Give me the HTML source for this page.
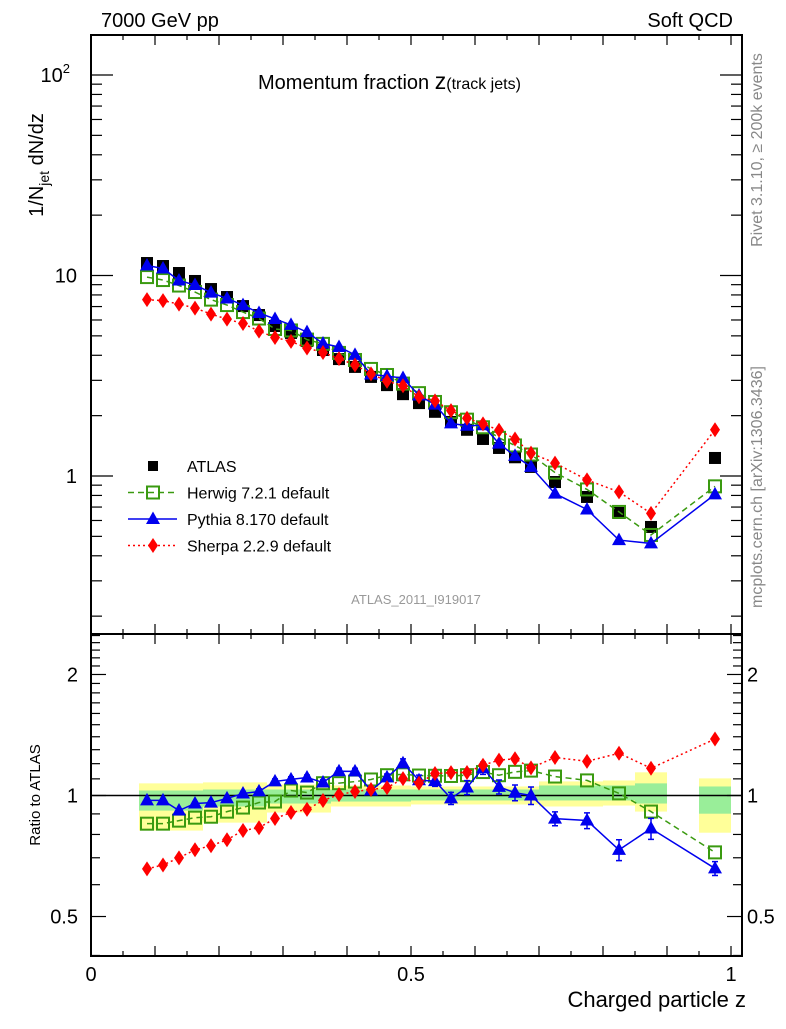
<!DOCTYPE html>
<html><head><meta charset="utf-8"><style>
body{margin:0;background:#fff}
svg text{font-family:"Liberation Sans",sans-serif}
</style></head><body>
<svg id="c" width="786" height="1024" viewBox="0 0 786 1024" xmlns="http://www.w3.org/2000/svg">
<g id="bands"></g>
<g id="marks"></g>
<g id="axes"></g>
<text x="101" y="27" font-size="20">7000 GeV pp</text>
<text x="733" y="27" font-size="20" text-anchor="end">Soft QCD</text>
<text x="258" y="89" font-size="20">Momentum fraction <tspan font-size="23">z</tspan><tspan font-size="16">(track jets)</tspan></text>
<text transform="translate(43,165) rotate(-90)" font-size="20" text-anchor="middle">1/N<tspan font-size="14" dy="6">jet</tspan><tspan dy="-6"> dN/dz</tspan></text>
<text transform="translate(40,795) rotate(-90)" font-size="15" text-anchor="middle">Ratio to ATLAS</text>
<text x="746" y="1007" font-size="22" text-anchor="end">Charged particle z</text>
<text transform="translate(762,150) rotate(-90)" font-size="16" fill="#888" text-anchor="middle">Rivet 3.1.10, ≥ 200k events</text>
<text transform="translate(762,487) rotate(-90)" font-size="16" fill="#888" text-anchor="middle">mcplots.cern.ch [arXiv:1306.3436]</text>
<text x="416" y="604" font-size="13" fill="#999" text-anchor="middle">ATLAS_2011_I919017</text>
<g id="legend"></g>
</svg>
<script>
const zCenters=[0.0875,0.1125,0.1375,0.1625,0.1875,0.2125,0.2375,0.2625,0.2875,0.3125,0.3375,0.3625,0.3875,0.4125,0.4375,0.4625,0.4875,0.5125,0.5375,0.5625,0.5875,0.6125,0.6375,0.6625,0.6875,0.725,0.775,0.825,0.875,0.975];
const zLo=[0.075,0.1,0.125,0.15,0.175,0.2,0.225,0.25,0.275,0.3,0.325,0.35,0.375,0.4,0.425,0.45,0.475,0.5,0.525,0.55,0.575,0.6,0.625,0.65,0.675,0.7,0.75,0.8,0.85,0.95];
const zHi=[0.1,0.125,0.15,0.175,0.2,0.225,0.25,0.275,0.3,0.325,0.35,0.375,0.4,0.425,0.45,0.475,0.5,0.525,0.55,0.575,0.6,0.625,0.65,0.675,0.7,0.75,0.8,0.85,0.9,1.0];
const atlas=[11.54,11.15,10.29,9.39,8.56,7.81,7.04,6.35,5.60,5.17,4.71,4.25,3.83,3.50,3.12,2.84,2.56,2.31,2.09,1.86,1.70,1.53,1.38,1.24,1.11,0.933,0.786,0.654,0.557,1.23];
const herwig=[9.82,9.49,8.91,8.27,7.58,7.12,6.57,6.10,5.41,5.32,4.79,4.56,4.11,3.79,3.42,3.19,2.89,2.59,2.34,2.08,1.91,1.75,1.55,1.42,1.28,1.04,0.857,0.662,0.508,0.888];
const pythia=[11.22,10.84,9.44,8.97,8.22,7.68,7.12,6.50,6.07,5.67,5.22,4.58,4.40,4.02,3.21,3.15,3.08,2.52,2.27,1.83,1.78,1.79,1.45,1.26,1.11,0.817,0.681,0.479,0.461,0.810];
const pythiaRelErr=[0.01,0.01,0.01,0.01,0.01,0.012,0.012,0.015,0.015,0.015,0.015,0.015,0.018,0.018,0.02,0.02,0.025,0.03,0.03,0.035,0.04,0.035,0.04,0.045,0.05,0.04,0.045,0.06,0.06,0.04];
const sherpa=[7.58,7.49,7.20,6.88,6.42,6.06,5.76,5.28,4.91,4.69,4.35,4.13,3.85,3.58,3.23,2.97,2.82,2.48,2.37,2.12,1.94,1.82,1.69,1.53,1.30,1.16,0.956,0.833,0.651,1.70];
const yellowHi=[1.072,1.072,1.072,1.072,1.078,1.078,1.078,1.078,1.065,1.065,1.065,1.065,1.059,1.059,1.059,1.059,1.059,1.053,1.053,1.053,1.053,1.053,1.053,1.053,1.053,1.084,1.084,1.090,1.142,1.103];
const yellowLo=[0.818,0.818,0.818,0.818,0.856,0.856,0.856,0.856,0.907,0.907,0.907,0.907,0.939,0.939,0.939,0.939,0.939,0.950,0.950,0.950,0.950,0.950,0.950,0.950,0.950,0.939,0.939,0.944,0.912,0.808];
const greenHi=[1.029,1.029,1.029,1.029,1.035,1.035,1.035,1.035,1.035,1.035,1.035,1.035,1.035,1.035,1.035,1.035,1.035,1.035,1.035,1.035,1.035,1.035,1.035,1.035,1.035,1.059,1.059,1.059,1.072,1.053];
const greenLo=[0.917,0.917,0.917,0.917,0.939,0.939,0.939,0.939,0.955,0.955,0.955,0.955,0.966,0.966,0.966,0.966,0.966,0.972,0.972,0.972,0.972,0.972,0.972,0.972,0.972,0.972,0.972,0.972,0.955,0.901];
const xTickLabels=["0","0.5","1"];
const xTickValues=[0,0.5,1];
const mainTickLabels=["1","10","10²"];
const ratioTickValues=[0.5,1,2];

const NS="http://www.w3.org/2000/svg";
const L=91,R=742,T=35,S=634,B=956;
const X=z=>L+z*640;
const Ym=v=>476-200.5*Math.log10(v);
const Yr=r=>795.5-402*Math.log10(r);
function mk(tag,attrs,parent){const e=document.createElementNS(NS,tag);for(const k in attrs)e.setAttribute(k,attrs[k]);parent.appendChild(e);return e;}
const bands=document.getElementById('bands'),marks=document.getElementById('marks'),axes=document.getElementById('axes'),legend=document.getElementById('legend');

for(let i=0;i<zCenters.length;i++){
  let e=mk('rect',{x:X(zLo[i]),y:Yr(yellowHi[i]),width:X(zHi[i])-X(zLo[i]),height:Yr(yellowLo[i])-Yr(yellowHi[i]),fill:'#ffff99'},bands);
  
  
  e=mk('rect',{x:X(zLo[i]),y:Yr(greenHi[i]),width:X(zHi[i])-X(zLo[i]),height:Yr(greenLo[i])-Yr(greenHi[i]),fill:'#99ee99'},bands);
  
  
}
let ref=mk('line',{x1:L,x2:R,y1:Yr(1),y2:Yr(1),stroke:'#000','stroke-width':1.5},bands);



function marker(kind,x,y,g){
  let e;
  if(kind==='sq') e=mk('rect',{x:x-6,y:y-6,width:12,height:12,fill:'#000'},g);
  else if(kind==='osq') e=mk('rect',{x:x-6,y:y-6,width:12,height:12,fill:'#fff','fill-opacity':0,stroke:'#3a9a10','stroke-width':2},g);
  else if(kind==='tri') e=mk('path',{d:`M${x},${y-7.5}L${x+7},${y+5}L${x-7},${y+5}Z`,fill:'#0000ee'},g);
  else e=mk('path',{d:`M${x},${y-7.5}L${x+5},${y}L${x},${y+7.5}L${x-5},${y}Z`,fill:'#ff0000'},g);
  return e;
}
const series=[
 {name:'herwig',vals:herwig,color:'#3a9a10',dash:'6,4',kind:'osq'},
 {name:'pythia',vals:pythia,color:'#0000ee',dash:'',kind:'tri',err:pythiaRelErr},
 {name:'sherpa',vals:sherpa,color:'#ff0000',dash:'2,3',kind:'dia'}
];
for(let i=0;i<atlas.length;i++){
  const e=marker('sq',X(zCenters[i]),Ym(atlas[i]),marks);
  
  
}
for(const s of series){
  const g=mk('g',{},marks);
  
  
  const pm=s.vals.map((v,i)=>X(zCenters[i])+','+Ym(v)).join(' ');
  const pr=s.vals.map((v,i)=>X(zCenters[i])+','+Yr(v/atlas[i])).join(' ');
  for(const pts of [pm,pr]){
    const pl=mk('polyline',{points:pts,fill:'none',stroke:s.color,'stroke-width':1.5,'stroke-dasharray':s.dash},g);
    
    
  }
  for(let i=0;i<s.vals.length;i++){
    const x=X(zCenters[i]);
    const r=s.vals[i]/atlas[i];
    if(s.err){
      const e1=mk('path',{d:`M${x},${Yr(r*(1+s.err[i]))}V${Yr(r*(1-s.err[i]))}M${x-3},${Yr(r*(1+s.err[i]))}h6M${x-3},${Yr(r*(1-s.err[i]))}h6`,stroke:s.color,'stroke-width':1.5,fill:'none'},g);
      
      
    }
    let e=marker(s.kind,x,Ym(s.vals[i]),g);
    
    
    e=marker(s.kind,x,Yr(r),g);
    
    
  }
}
function ln(x1,y1,x2,y2,w){return mk('line',{x1,y1,x2,y2,stroke:'#000','stroke-width':w||1.2},axes);}
for(const [t,b] of [[T,S],[S,B]]){
  const f=mk('rect',{x:L,y:t,width:R-L,height:b-t,fill:'none',stroke:'#000','stroke-width':2},axes);
  
  
  for(let k=0;k<=20;k++){
    const x=X(k*0.05);const len=k%2===0?10:5;
    ln(x,t,x,t+len);ln(x,b,x,b-len);
  }
}
for(let i=0;i<xTickValues.length;i++){
  const e=mk('text',{x:X(xTickValues[i]),y:981,'font-size':20,'text-anchor':'middle'},axes);
  e.textContent=xTickLabels[i];
  
  
}
for(let d=-1;d<=2;d++){
  for(let m=1;m<10;m++){
    const v=m*Math.pow(10,d);const y=Ym(v);
    if(y<T||y>S)continue;
    const len=m===1?22:11;
    ln(L,y,L+len,y);ln(R,y,R-len,y);
  }
}
[1,10,100].forEach((v,i)=>{
  const e=mk('text',{x:i==2?70:77,y:Ym(v)+7,'font-size':20,'text-anchor':'end'},axes);
  if(i===2){e.textContent='10';const ts=mk('tspan',{dy:-9,'font-size':13},e);ts.textContent='2';}
  else e.textContent=mainTickLabels[i];
  
  
});
for(const v of [0.4,0.5,0.6,0.7,0.8,0.9,1,1.1,1.2,1.3,1.4,1.5,1.6,1.7,1.8,1.9,2,2.1,2.2,2.3,2.4,2.5]){
  const y=Yr(v);if(y<S||y>B)continue;
  const len=(v===0.5||v===1||v===2)?15:9;
  ln(L,y,L+len,y);ln(R,y,R-len,y);
}
for(const v of ratioTickValues){
  for(const [x,a] of [[78,'end'],[747,'start']]){
    const e=mk('text',{x,y:Yr(v)+7,'font-size':20,'text-anchor':a},axes);
    e.textContent=String(v);
    
    
  }
}
const leg=[['ATLAS','sq',null,''],['Herwig 7.2.1 default','osq','#3a9a10','6,4'],['Pythia 8.170 default','tri','#0000ee',''],['Sherpa 2.2.9 default','dia','#ff0000','2,3']];
leg.forEach((l,i)=>{
  const y=466+i*26.5;
  const g=mk('g',{},legend);
  
  
  if(l[2]) mk('line',{x1:128,x2:177,y1:y,y2:y,stroke:l[2],'stroke-width':1.5,'stroke-dasharray':l[3]},g);
  if(l[1]==='sq') mk('rect',{x:148,y:y-5,width:10,height:10,fill:'#000'},g); else marker(l[1],153,y,g);
  const t=mk('text',{x:187,y:y+6,'font-size':16},g);t.textContent=l[0];
});
</script>
</body></html>
